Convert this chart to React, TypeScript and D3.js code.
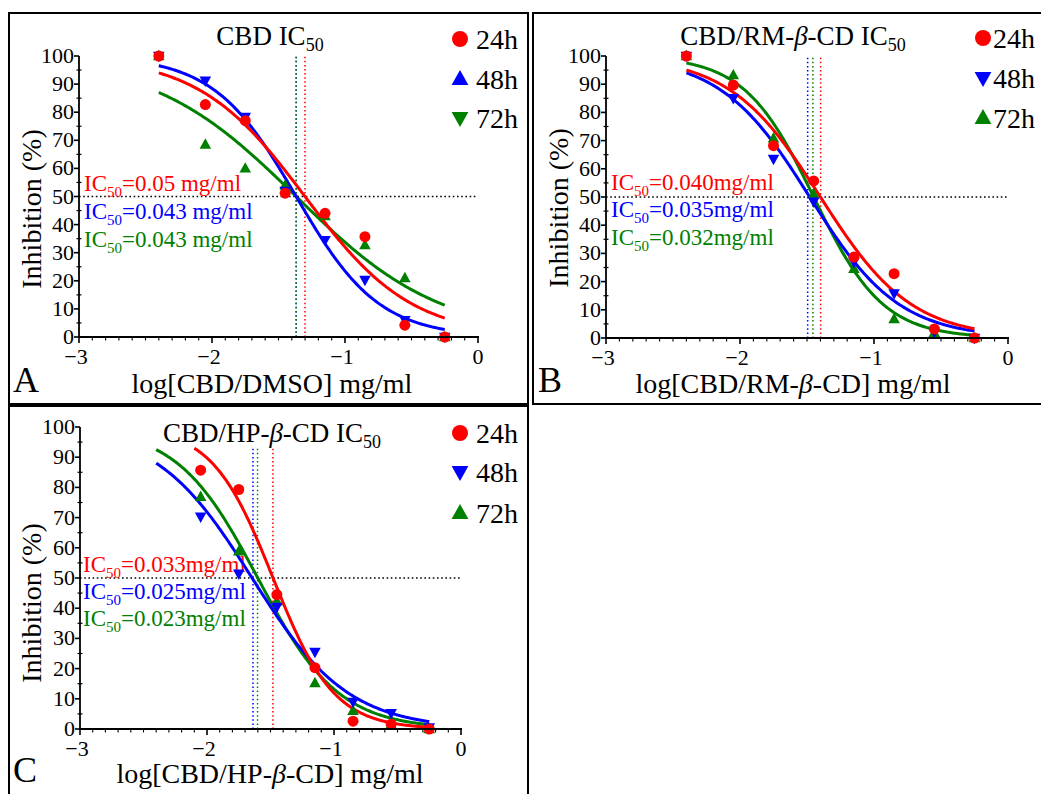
import React from 'react';
import * as d3 from 'd3';

// ---------- data ----------
const seriesNames = ['24h', '48h', '72h'];
const seriesColors = ['#ff0000', '#0000ff', '#008000'];
const xTicks = [-3, -2, -1, 0];
const yTicks = [0, 10, 20, 30, 40, 50, 60, 70, 80, 90, 100];

const logConcAB = [-2.4, -2.05, -1.75, -1.45, -1.15, -0.85, -0.55, -0.25];
const logConcC = [-2.05, -1.75, -1.45, -1.15, -0.85, -0.55, -0.25];

const a24 = [100, 82.7, 77, 51.2, 44, 35.7, 4.2, 0];
const a48 = [100, 91.2, 78.3, 52, 34.5, 20.3, 6, 0];
const a72 = [100, 68.5, 60, 54, 43, 32.7, 21, 0];

const b24 = [100, 89.7, 68.2, 55.7, 28.7, 22.8, 3.2, 0];
const b48 = [100, 85, 63.5, 48.3, 27, 15.8, 2.2, 0];
const b72 = [100, 93.2, 70.8, 51, 24.5, 6.7, 1.8, 0];

const c24 = [85.7, 79.3, 44.5, 20.3, 2.6, 1.6, 0];
const c48 = [70.3, 51.4, 40.4, 25.5, 9, 5.2, 0.5];
const c72 = [76.9, 58.8, 42.3, 15.2, 6, 1.5, 0];

// fitted dose-response parameters (log IC50, Hill slope) per series
const aLogIC = [-1.301, -1.367, -1.367];
const aHill = [1.086, 1.398, 0.8];
const bLogIC = [-1.4, -1.48, -1.45];
const bHill = [1.279, 1.3, 1.675];
const cLogIC = [-1.48, -1.645, -1.6];
const cHill = [1.81, 1.147, 1.364];

const aCurveStart = [-2.4, -2.4, -2.4];
const bCurveStart = [-2.4, -2.4, -2.4];
const cCurveStart = [-2.1, -2.4, -2.4];
const curveEnd = -0.25;

// IC50 guide lines (log x) as drawn
const aGuides = [-1.301, -1.367, -1.367];
const bGuides = [-1.398, -1.495, -1.456];
const cGuides = [-1.481, -1.638, -1.602];
const aGuideTop = 100;
const bGuideTop = 100;
const cGuideTop = 93;

const aIC = ['0.05 mg/ml', '0.043 mg/ml', '0.043 mg/ml'];
const bIC = ['0.040mg/ml', '0.035mg/ml', '0.032mg/ml'];
const cIC = ['0.033mg/ml', '0.025mg/ml', '0.023mg/ml'];

type Shape = 'circle' | 'up' | 'down';

const FONT = 'Liberation Serif, Times New Roman, serif';

function markerPath(shape: Shape, s: number) {
  if (shape === 'circle') return d3.symbol(d3.symbolCircle, Math.PI * s * s)();
  const w = s * 2.1;
  const h = s * 1.9;
  if (shape === 'up') return `M0,${-h * 0.6}L${w / 2},${h * 0.4}L${-w / 2},${h * 0.4}Z`;
  return `M0,${h * 0.6}L${w / 2},${-h * 0.4}L${-w / 2},${-h * 0.4}Z`;
}

function fourPL(x: number, logIC: number, hill: number) {
  return 100 / (1 + Math.pow(10, (x - logIC) * hill));
}

interface PanelCfg {
  box: [number, number, number, number];
  plot: { left: number; right: number; top: number; bottom: number };
  title: React.ReactNode;
  titleX: number;
  titleY: number;
  xlabel: React.ReactNode;
  xlabelX: number;
  xlabelY: number;
  ylabelX: number;
  ylabelY: number;
  letter: string;
  letterX: number;
  letterY: number;
  legendShapes: Shape[];
  legendX: number;
  legendTextX: number;
  legendY: number[];
  icTexts: string[];
  icX: number;
  icY: number[];
  xs: number[];
  series: number[][];
  logIC: number[];
  hill: number[];
  curveStart: number[];
  guides: number[];
  guideTop: number;
}

const beta = <tspan fontStyle="italic">β</tspan>;

const panels: PanelCfg[] = [
  {
    box: [9, 13, 519, 391],
    plot: { left: 79, right: 478, top: 56, bottom: 337 },
    title: (<>CBD IC<tspan fontSize={18} dy={6}>50</tspan></>),
    titleX: 270, titleY: 45,
    xlabel: <>log[CBD/DMSO] mg/ml</>,
    xlabelX: 272, xlabelY: 393,
    ylabelX: 41, ylabelY: 209,
    letter: 'A', letterX: 13, letterY: 392,
    legendShapes: ['circle', 'up', 'down'],
    legendX: 460, legendTextX: 476, legendY: [39, 79, 118],
    icTexts: aIC, icX: 84, icY: [191, 219, 247],
    xs: logConcAB, series: [a24, a48, a72],
    logIC: aLogIC, hill: aHill, curveStart: aCurveStart,
    guides: aGuides, guideTop: aGuideTop,
  },
  {
    box: [533, 13, 515, 391],
    plot: { left: 606, right: 1008, top: 56, bottom: 338 },
    title: (<>CBD/RM-{beta}-CD IC<tspan fontSize={18} dy={6}>50</tspan></>),
    titleX: 793, titleY: 45,
    xlabel: <>log[CBD/RM-{beta}-CD] mg/ml</>,
    xlabelX: 793, xlabelY: 393,
    ylabelX: 568, ylabelY: 208,
    letter: 'B', letterX: 538, letterY: 392,
    legendShapes: ['circle', 'down', 'up'],
    legendX: 983, legendTextX: 993, legendY: [38, 78, 118],
    icTexts: bIC, icX: 611, icY: [190, 217, 245],
    xs: logConcAB, series: [b24, b48, b72],
    logIC: bLogIC, hill: bHill, curveStart: bCurveStart,
    guides: bGuides, guideTop: bGuideTop,
  },
  {
    box: [9, 406, 519, 392],
    plot: { left: 80, right: 461, top: 427, bottom: 729 },
    title: (<>CBD/HP-{beta}-CD IC<tspan fontSize={18} dy={6}>50</tspan></>),
    titleX: 272, titleY: 442,
    xlabel: <>log[CBD/HP-{beta}-CD] mg/ml</>,
    xlabelX: 270, xlabelY: 783,
    ylabelX: 41, ylabelY: 603,
    letter: 'C', letterX: 13, letterY: 782,
    legendShapes: ['circle', 'down', 'up'],
    legendX: 460, legendTextX: 476, legendY: [433, 472, 513],
    icTexts: cIC, icX: 83, icY: [572, 599, 626],
    xs: logConcC, series: [c24, c48, c72],
    logIC: cLogIC, hill: cHill, curveStart: cCurveStart,
    guides: cGuides, guideTop: cGuideTop,
  },
];

function Panel({ p }: { p: PanelCfg }) {
  const x = d3.scaleLinear().domain([-3, 0]).range([p.plot.left, p.plot.right]);
  const y = d3.scaleLinear().domain([0, 100]).range([p.plot.bottom, p.plot.top]);

  const minorX = d3.range(-30, 1).map((v) => v / 10).filter((v) => !xTicks.some((t) => Math.abs(t - v) < 1e-6));
  const minorY = d3.range(5, 100, 10);
  const drawOrder = [2, 1, 0];

  return (
    <g>
      <rect x={p.box[0]} y={p.box[1]} width={p.box[2]} height={p.box[3]} fill="none" stroke="#000" strokeWidth={2} />
      {/* title */}
      <text x={p.titleX} y={p.titleY} textAnchor="middle" fontFamily={FONT} fontSize={27} fill="#000">
        {p.title}
      </text>
      {/* legend */}
      {seriesNames.map((n, i) => (
        <g key={n}>
          <path d={markerPath(p.legendShapes[i], 8) || ''} transform={`translate(${p.legendX},${p.legendY[i]})`} fill={seriesColors[i]} />
          <text x={p.legendTextX} y={p.legendY[i] + 10} fontFamily={FONT} fontSize={28} fill="#000">{n}</text>
        </g>
      ))}
      {/* guide lines */}
      <line x1={x(-3)} x2={x(0)} y1={y(50)} y2={y(50)} stroke="#000" strokeWidth={1.6} strokeDasharray="1.6,2.6" />
      {p.guides.map((g, i) => (
        <line key={i} x1={x(g)} x2={x(g)} y1={y(0)} y2={y(p.guideTop)} stroke={seriesColors[i]} strokeWidth={1.5} strokeDasharray="1.5,2.6" />
      ))}
      {/* IC50 text */}
      {p.icTexts.map((t, i) => (
        <text key={i} x={p.icX} y={p.icY[i]} fontFamily={FONT} fontSize={23} fill={seriesColors[i]}>
          IC<tspan fontSize={15} dy={6}>50</tspan><tspan dy={-6}>={t}</tspan>
        </text>
      ))}
      {/* curves */}
      {drawOrder.map((i) => {
        const xsFine = d3.range(0, 201).map((k) => p.curveStart[i] + ((curveEnd - p.curveStart[i]) * k) / 200);
        const l = d3
          .line<number>()
          .x((d) => x(d))
          .y((d) => y(fourPL(d, p.logIC[i], p.hill[i])));
        return <path key={i} d={l(xsFine) || ''} fill="none" stroke={seriesColors[i]} strokeWidth={3} />;
      })}
      {/* points */}
      {drawOrder.map((i) => (
        <g key={i}>
          {p.series[i].map((v, k) => (
            <path
              key={k}
              d={markerPath(['circle', 'down', 'up'][i] as Shape, 5.5) || ''}
              transform={`translate(${x(p.xs[k])},${y(v)})`}
              fill={seriesColors[i]}
            />
          ))}
        </g>
      ))}
      {/* axes */}
      <line x1={x(-3)} x2={x(-3)} y1={y(0)} y2={y(100)} stroke="#000" strokeWidth={1.8} />
      <line x1={x(-3) - 1} x2={x(0) + 1} y1={y(0)} y2={y(0)} stroke="#000" strokeWidth={1.8} />
      {yTicks.map((t) => (
        <g key={t}>
          <line x1={x(-3) - 5} x2={x(-3)} y1={y(t)} y2={y(t)} stroke="#000" strokeWidth={1.6} />
          <text x={x(-3) - 5} y={y(t) + 7} textAnchor="end" fontFamily={FONT} fontSize={22} fill="#000">{t}</text>
        </g>
      ))}
      {minorY.map((t) => (
        <line key={t} x1={x(-3) - 2.5} x2={x(-3) + 2.5} y1={y(t)} y2={y(t)} stroke="#000" strokeWidth={1.2} />
      ))}
      {xTicks.map((t) => (
        <g key={t}>
          <line x1={x(t)} x2={x(t)} y1={y(0)} y2={y(0) + 6} stroke="#000" strokeWidth={1.6} />
          <text x={x(t) - (t < 0 ? 3 : 0)} y={y(0) + 27} textAnchor="middle" fontFamily={FONT} fontSize={22} fill="#000">
            {t < 0 ? `\u2212${Math.abs(t)}` : `${t}`}
          </text>
        </g>
      ))}
      {minorX.map((t) => (
        <line key={t} x1={x(t)} x2={x(t)} y1={y(0)} y2={y(0) + 3.5} stroke="#000" strokeWidth={1.1} />
      ))}
      {/* axis labels */}
      <text x={p.xlabelX} y={p.xlabelY} textAnchor="middle" fontFamily={FONT} fontSize={28} fill="#000">
        {p.xlabel}
      </text>
      <text
        transform={`translate(${p.ylabelX},${p.ylabelY}) rotate(-90)`}
        textAnchor="middle"
        fontFamily={FONT}
        fontSize={28}
        fill="#000"
      >
        Inhibition (%)
      </text>
      <text x={p.letterX} y={p.letterY} fontFamily={FONT} fontSize={36} fill="#000">{p.letter}</text>
    </g>
  );
}

export default function App() {
  return (
    <svg
      width={1041}
      height={794}
      viewBox="0 0 1041 794"
      style={{ position: 'absolute', left: 0, top: 0, background: '#fff', fontFamily: FONT }}
    >
      <rect x={0} y={0} width={1041} height={794} fill="#fff" />
      {panels.map((p, i) => (
        <Panel key={i} p={p} />
      ))}
    </svg>
  );
}
